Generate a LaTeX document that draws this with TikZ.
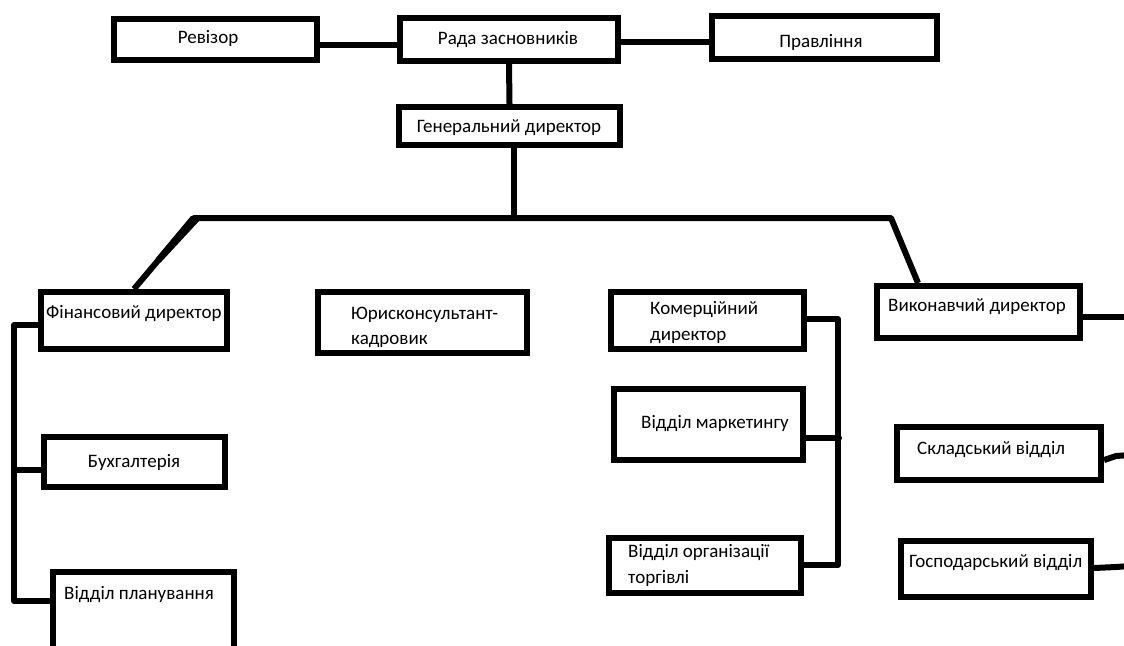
\documentclass[tikz,border=0pt]{standalone}
\usepackage{fontspec}
\setmainfont{Carlito}
\usetikzlibrary{calc}
\begin{document}
\begin{tikzpicture}[x=1pt,y=-1pt,
  box/.style={draw=black, line width=6pt, fill=white, rectangle, inner sep=0pt},
  lbl/.style={font=\fontsize{19}{25.5}\selectfont, inner sep=0pt, text height=0.62em, text depth=0.14em, yshift=-3.5pt},
  lbltwo/.style={font=\fontsize{19}{25.5}\selectfont, inner sep=0pt, align=left, anchor=west, yshift=-1.5pt},
  wire/.style={line width=6pt, line join=round}]
\useasboundingbox (0,0) rectangle (1124,645);
\clip (0,0) rectangle (1124,645);
\fill[white] (0,0) rectangle (1124,645);

% boxes
\node[box, minimum width=203pt, minimum height=41pt] (rev)  at (215.5,39.5) {};
\node[box, minimum width=218pt, minimum height=43pt] (rada) at (509,39.5) {};
\node[box, minimum width=225pt, minimum height=43pt] (prav) at (824.5,37.5) {};
\node[box, minimum width=221pt, minimum height=38pt] (gen)  at (509.5,126) {};
\node[box, minimum width=186pt, minimum height=57pt] (fin)  at (134,320.5) {};
\node[box, minimum width=209pt, minimum height=61pt] (yur)  at (422.5,322.5) {};
\node[box, minimum width=193pt, minimum height=57pt] (kom)  at (707.5,320.5) {};
\node[box, minimum width=203pt, minimum height=52pt] (vyk)  at (978.5,312) {};
\node[box, minimum width=181pt, minimum height=50pt] (buh)  at (134.5,462) {};
\node[box, minimum width=181pt, minimum height=88pt] (plan) at (143.5,616) {};
\node[box, minimum width=189pt, minimum height=71pt] (mark) at (708.5,424.5) {};
\node[box, minimum width=192pt, minimum height=55pt] (org)  at (705,565.5) {};
\node[box, minimum width=204pt, minimum height=53pt] (skl)  at (999,453.5) {};
\node[box, minimum width=190pt, minimum height=56pt] (gosp) at (996,569) {};

% labels
\node[lbl] (revt)  at (208,38) {Ревізор};
\node[lbl] (radat) at (508,39) {Рада засновників};
\node[lbl] (pravt) at (821,42) {Правління};
\node[lbl] (gent)  at (509,127) {Генеральний директор};
\node[lbl, anchor=west] (fint) at (46,313) {Фінансовий директор};
\node[lbltwo] (yurt) at (351,326) {Юрисконсультант-\\кадровик};
\node[lbl] (buht) at (134,462) {Бухгалтерія};
\node[lbl, anchor=west] (plant) at (64,594) {Відділ планування};
\node[lbltwo] (komt) at (650,321) {Комерційний\\директор};
\node[lbl, anchor=west] (markt) at (641,423) {Відділ маркетингу};
\node[lbltwo] (orgt) at (628,564) {Відділ організації\\торгівлі};
\node[lbl, anchor=west] (vykt) at (888,306) {Виконавчий директор};
\node[lbl, anchor=west] (sklt) at (917,449) {Складський відділ};
\node[lbl, anchor=west] (gospt) at (909,562) {Господарський відділ};

% hub coordinates
\coordinate (hL) at (194,218);
\coordinate (hR) at (891,218);
\coordinate (lb1) at (14,325);
\coordinate (lb2) at (14,470);
\coordinate (lb3) at (14,601);
\coordinate (rb1) at (838,319);
\coordinate (rb2) at (838,438);
\coordinate (rb3) at (838,565);
\coordinate (vykE) at (1130,317);
\coordinate (sklE) at (1130,455);
\coordinate (gospE) at (1130,566);

% connectors
\draw[wire] (rev.east |- 0,45) -- (rada.west |- 0,45);
\draw[wire] (rada.east |- 0,42) -- (prav.west |- 0,42);
\draw[wire] (rada.south) -- (gen.north);
\draw[wire] (gen.south -| 514,0) -- (hL -| 514,0);
\draw[wire] (fin.north) -- (hL) -- (hR) -- ([xshift=44pt]vyk.north west);
\fill ($(hL)+(-3,-2)$) -- ($(hL)+(6,2)$) -- ($(hL)!0.6!(fin.north)+(2.5,2)$) -- ($(hL)!0.6!(fin.north)+(-2.5,-2)$) -- cycle;
\draw[wire] (fin.west |- lb1) -- (lb1) -- (lb3) -- (plan.west |- lb3);
\draw[wire] (lb2) -- (buh.west |- lb2);
\draw[wire] (kom.east |- rb1) -- (rb1) -- (rb3) -- (org.east |- rb3);
\draw[wire] (mark.east |- rb2) -- (rb2);
\fill (rb2) circle (4pt);
\draw[wire] (vyk.east |- vykE) -- (vykE);
\draw[wire] (skl.east |- 0,460) -- (1116,456) -- (sklE);
\draw[wire] (gosp.east |- 0,568) -- (1116,567) -- (gospE);
\end{tikzpicture}
\end{document}
